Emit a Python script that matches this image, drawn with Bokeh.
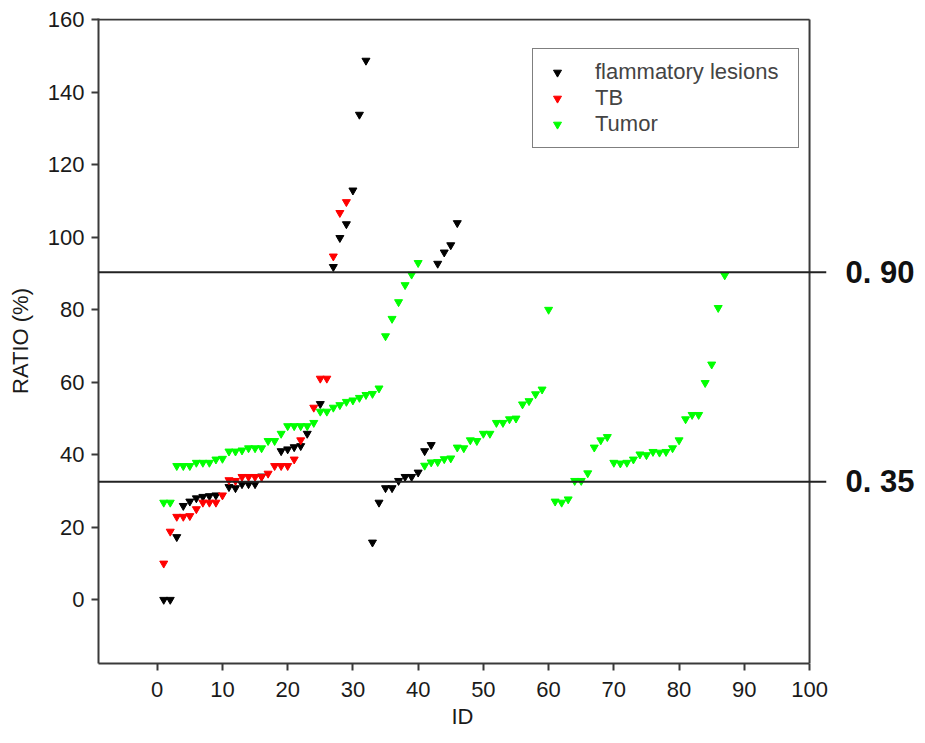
from bokeh.plotting import figure
from bokeh.models import Span, Legend, LegendItem, FixedTicker, Range1d, LinearAxis
from bokeh.embed import file_html
from bokeh.resources import INLINE

# ---- data ----
lesion_id = [1, 2, 3, 4, 5, 6, 7, 8, 9, 11, 12, 13, 14, 15, 16, 19, 20, 21, 22, 23, 25,
             27, 28, 29, 30, 31, 32, 33, 34, 35, 36, 37, 38, 39, 40, 41, 42, 43, 44, 45, 46]
lesion_ratio = [0, 0, 17.3, 25.9, 27.1, 28.0, 28.4, 28.6, 28.8, 31.1, 30.8, 31.9, 31.9, 31.9, 34.0,
                41.0, 41.5, 42.1, 42.4, 45.8, 54.0,
                91.8, 99.8, 103.6, 112.9, 133.8, 148.7,
                15.8, 26.8, 30.8, 30.8, 32.8, 33.9, 33.9, 35.1, 41.0, 42.7,
                92.7, 95.8, 97.8, 103.9]

tb_id = [1, 2, 3, 4, 5, 6, 7, 8, 9, 10, 11, 12, 13, 14, 15, 16, 17, 18, 19, 20, 21, 22,
         24, 25, 26, 27, 28, 29]
tb_ratio = [10.0, 18.8, 22.9, 22.9, 23.1, 25.0, 26.8, 26.8, 26.8, 28.8,
            33.0, 32.8, 33.9, 33.9, 33.9, 33.9, 34.8, 36.9, 36.9, 36.9, 38.7, 44.0,
            53.0, 61.0, 61.0, 94.7, 106.7, 109.7]

tumor_id = list(range(1, 88))
tumor_ratio = [26.8, 26.8, 36.9, 36.9, 36.9, 37.8, 37.8, 37.8, 38.7, 38.9,
               40.9, 40.9, 41.2, 41.8, 41.8, 41.8, 43.8, 43.8, 45.8, 47.9,
               47.9, 47.9, 47.9, 48.8, 51.9, 51.9, 53.0, 53.7, 54.6, 55.0,
               55.7, 56.5, 56.8, 58.3, 72.7, 77.5, 82.1, 86.8, 89.7, 92.9,
               37.0, 37.9, 38.0, 38.8, 39.0, 42.0, 41.8, 44.0, 43.8, 45.8,
               45.8, 48.8, 48.8, 49.8, 50.0, 53.9, 54.8, 56.7, 58.0, 80.0,
               27.1, 26.8, 27.7, 32.8, 32.8, 34.9, 42.0, 44.0, 44.9, 37.8,
               37.6, 37.8, 38.7, 40.1, 39.9, 40.8, 40.6, 40.8, 41.8, 44.0,
               49.8, 51.0, 51.0, 59.8, 64.9, 80.5, 89.5]

series_names = ["flammatory lesions", "TB", "Tumor"]
thresholds = [90.3, 32.5]
threshold_labels = ["0. 90", "0. 35"]
x_ticks = list(range(0, 101, 10))
y_ticks = list(range(0, 161, 20))

X_MIN, X_MAX, X_VIEW = -9.0, 100.0, 102.6
Y_MIN, Y_MAX = -17.6, 160.0

FONT = "Liberation Sans"
AXIS_COLOR = "#3a3a3a"

p = figure(width=917, height=735,
           x_range=Range1d(X_MIN, X_VIEW), y_range=Range1d(Y_MIN, Y_MAX + 0.3),
           output_backend="svg", toolbar_location=None,
           min_border_left=98, min_border_right=87, min_border_top=18, min_border_bottom=72)

p.grid.visible = False
p.outline_line_color = None
p.background_fill_color = "white"
p.border_fill_color = "white"

# frame top and right lines (only up to x = 100)
p.segment(x0=[X_MAX, X_MIN], y0=[Y_MIN, Y_MAX], x1=[X_MAX, X_MAX], y1=[Y_MAX, Y_MAX],
          line_color=AXIS_COLOR, line_width=2)

for t in thresholds:
    p.add_layout(Span(location=t, dimension="width", line_color="#222222", line_width=2))

# threshold labels on the right side
rax = LinearAxis(ticker=FixedTicker(ticks=thresholds),
                 major_label_overrides={t: lab for t, lab in zip(thresholds, threshold_labels)},
                 axis_line_color=None, major_tick_line_color=None, minor_tick_line_color=None,
                 major_label_standoff=13, major_label_text_font=FONT,
                 major_label_text_font_size="31px", major_label_text_font_style="bold",
                 major_label_text_color="#111111")
p.add_layout(rax, "right")

r1 = p.scatter(lesion_id, lesion_ratio, marker="inverted_triangle", size=8,
               fill_color="black", line_color="black")
r2 = p.scatter(tb_id, tb_ratio, marker="inverted_triangle", size=8,
               fill_color="#ff0000", line_color="#ff0000")
r3 = p.scatter(tumor_id, tumor_ratio, marker="inverted_triangle", size=8,
               fill_color="#00ff00", line_color="#00ff00")

legend = Legend(items=[LegendItem(label=series_names[0], renderers=[r1]),
                       LegendItem(label=series_names[1], renderers=[r2]),
                       LegendItem(label=series_names[2], renderers=[r3])],
                location=(434, 515), margin=0, padding=10, spacing=0,
                glyph_width=28, glyph_height=20, label_height=20, label_standoff=24,
                label_width=193, label_text_font=FONT, label_text_font_size="22px",
                border_line_color="black", border_line_width=1.5,
                background_fill_color="white", background_fill_alpha=1.0)
p.add_layout(legend)

for ax in (p.xaxis[0], p.yaxis[0]):
    ax.axis_line_width = 2
    ax.axis_line_color = AXIS_COLOR
    ax.major_tick_line_width = 2
    ax.major_tick_line_color = AXIS_COLOR
    ax.major_tick_out = 7
    ax.major_tick_in = 0
    ax.minor_tick_line_color = None
    ax.major_label_text_font = FONT
    ax.major_label_text_font_size = "22px"
    ax.major_label_text_color = "#1a1a1a"
    ax.axis_label_text_font = FONT
    ax.axis_label_text_font_size = "22px"
    ax.axis_label_text_font_style = "normal"
    ax.axis_label_text_color = "#1a1a1a"

xa = p.xaxis[0]
ya = p.yaxis[0]
xa.ticker = FixedTicker(ticks=x_ticks)
ya.ticker = FixedTicker(ticks=y_ticks)
xa.bounds = (X_MIN, X_MAX)
xa.major_label_standoff = 11
ya.major_label_standoff = 7
xa.axis_label = "ID"
ya.axis_label = "RATIO (%)"
xa.axis_label_standoff = 4
ya.axis_label_standoff = 12

open("out.html", "w").write(file_html(p, INLINE))
